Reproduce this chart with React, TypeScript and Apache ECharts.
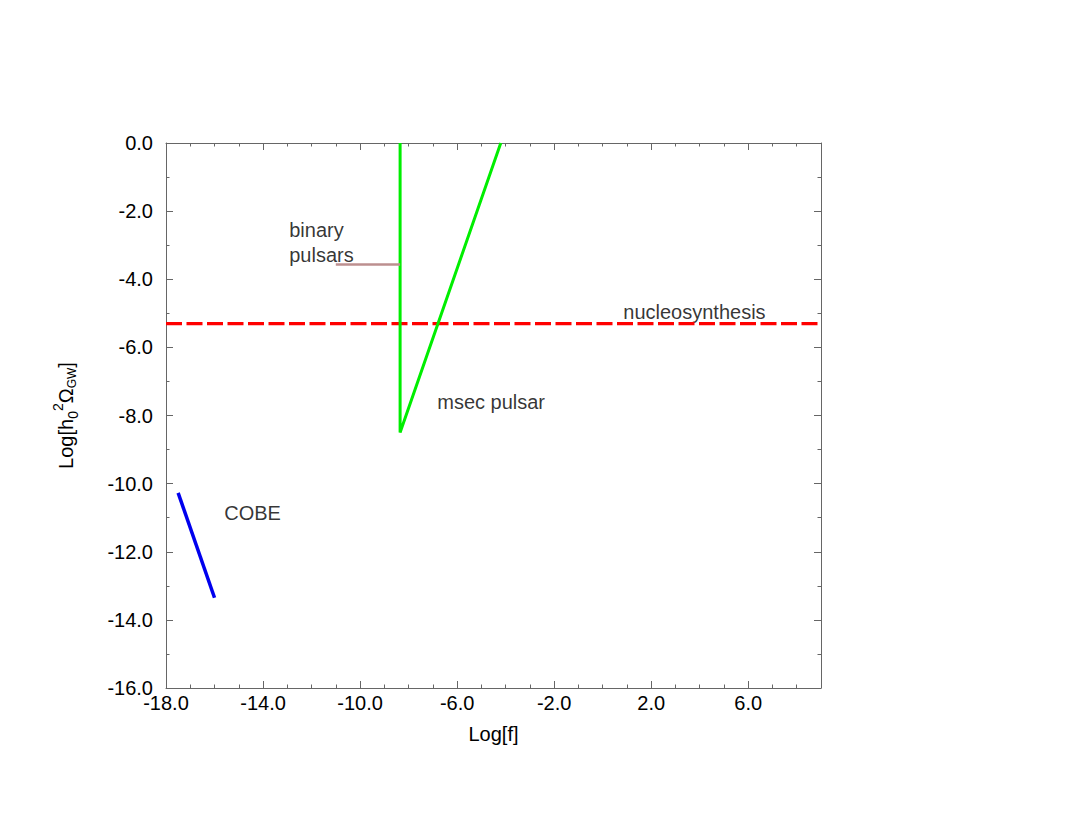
import React, { useEffect, useRef } from "react";
import * as echarts from "echarts";

const xTickLabels = ["-18.0", "-14.0", "-10.0", "-6.0", "-2.0", "2.0", "6.0"];
const mseCPulsar: [number, number][] = [[-8.35, 0], [-8.35, -8.5], [-4.2, 0]];
const binaryPulsars: [number, number][] = [[-11.0, -3.57], [-8.35, -3.57]];
const nucleosynthesis: [number, number][] = [[-18, -5.3], [9, -5.3]];
const cobe: [number, number][] = [[-17.5, -10.27], [-16.0, -13.35]];
const annotations = [
  { text: "binary", x: -12.92, y: -2.55 },
  { text: "pulsars", x: -12.92, y: -3.3 },
  { text: "nucleosynthesis", x: 0.85, y: -4.95 },
  { text: "msec pulsar", x: -6.82, y: -7.6 },
  { text: "COBE", x: -15.6, y: -10.85 },
];

const FONT = "'Liberation Sans', Arial, Helvetica, sans-serif";
const AX = "#666666";
const FS = 20;

export default function App() {
  const ref = useRef<HTMLDivElement>(null);
  useEffect(() => {
    if (!ref.current) return;
    const chart = echarts.init(ref.current, null, { renderer: "svg" });
    const baseX = {
      type: "value" as const,
      min: -18,
      max: 9,
      splitLine: { show: false },
    };
    const baseY = {
      type: "value" as const,
      min: -16,
      max: 0,
      interval: 2,
      splitLine: { show: false },
    };
    chart.setOption({
      animation: false,
      backgroundColor: "#ffffff",
      textStyle: { fontFamily: FONT },
      grid: { left: 166, right: 254, top: 143, bottom: 142 },
      xAxis: [
        {
          ...baseX,
          position: "bottom",
          interval: 4,
          axisLine: { show: true, onZero: false, lineStyle: { color: AX, width: 1 } },
          axisTick: { show: true, inside: true, length: 7, lineStyle: { color: AX } },
          axisLabel: {
            show: true,
            margin: 5,
            fontSize: FS,
            color: "#000",
            fontFamily: FONT,
            showMaxLabel: false,
            formatter: (v: number) => {
              const s = v.toFixed(1);
              return xTickLabels.includes(s) ? s : "";
            },
          },
          name: "Log[f]",
          nameLocation: "middle",
          nameGap: 36,
          nameTextStyle: { fontSize: FS, color: "#000", fontFamily: FONT },
        },
        {
          ...baseX,
          position: "bottom",
          interval: 1,
          axisLine: { show: false, onZero: false },
          axisTick: { show: true, inside: true, length: 3.5, lineStyle: { color: AX } },
          axisLabel: { show: false },
        },
        {
          ...baseX,
          position: "top",
          interval: 4,
          axisLine: { show: true, onZero: false, lineStyle: { color: AX, width: 1 } },
          axisTick: { show: true, inside: true, length: 7, lineStyle: { color: AX } },
          axisLabel: { show: false },
        },
        {
          ...baseX,
          position: "top",
          interval: 1,
          axisLine: { show: false, onZero: false },
          axisTick: { show: true, inside: true, length: 3.5, lineStyle: { color: AX } },
          axisLabel: { show: false },
        },
      ],
      yAxis: [
        {
          ...baseY,
          position: "left",
          axisLine: { show: true, onZero: false, lineStyle: { color: AX, width: 1 } },
          axisTick: { show: true, inside: true, length: 7, lineStyle: { color: AX } },
          minorTick: { show: true, splitNumber: 2, length: 3.5, lineStyle: { color: AX } },
          axisLabel: {
            show: true,
            margin: 13,
            fontSize: FS,
            color: "#000",
            fontFamily: FONT,
            formatter: (v: number) => v.toFixed(1),
          },
          name: "{n|Log[h}{sub|0}{sup|2}{n|Ω}{sub2|GW}{n|]}",
          nameLocation: "middle",
          nameGap: 86,
          nameRotate: 90,
          nameTextStyle: {
            fontSize: FS,
            color: "#000",
            fontFamily: FONT,
            rich: {
              n: { fontSize: FS, color: "#000", fontFamily: FONT },
              sub: { fontSize: 14, color: "#000", fontFamily: FONT, padding: [15, 0, 0, 0] },
              sup: { fontSize: 14, color: "#000", fontFamily: FONT, padding: [0, 0, 15, 0] },
              sub2: { fontSize: 12, color: "#000", fontFamily: FONT, padding: [13, 0, 0, 0] },
            },
          },
        },
        {
          ...baseY,
          position: "right",
          axisLine: { show: true, onZero: false, lineStyle: { color: AX, width: 1 } },
          axisTick: { show: true, inside: true, length: 7, lineStyle: { color: AX } },
          minorTick: { show: true, splitNumber: 2, length: 3.5, lineStyle: { color: AX } },
          axisLabel: { show: false },
        },
      ],
      series: [
        {
          type: "line",
          data: nucleosynthesis,
          xAxisIndex: 0,
          yAxisIndex: 0,
          symbol: "none",
          lineStyle: { color: "#ff0000", width: 3.3, type: [16, 4.5] },
        },
        {
          type: "line",
          data: mseCPulsar,
          xAxisIndex: 0,
          yAxisIndex: 0,
          symbol: "none",
          lineStyle: { color: "#00ee00", width: 3 },
        },
        {
          type: "line",
          data: binaryPulsars,
          xAxisIndex: 0,
          yAxisIndex: 0,
          symbol: "none",
          lineStyle: { color: "#bc8f8f", width: 2.5 },
        },
        {
          type: "line",
          data: cobe,
          xAxisIndex: 0,
          yAxisIndex: 0,
          symbol: "none",
          lineStyle: { color: "#0000ee", width: 3.5 },
        },
        {
          type: "scatter",
          xAxisIndex: 0,
          yAxisIndex: 0,
          symbolSize: 0,
          silent: true,
          data: annotations.map((a) => ({ value: [a.x, a.y], name: a.text })),
          label: {
            show: true,
            position: "right",
            distance: 0,
            formatter: (p: any) => p.name,
            fontSize: FS,
            color: "#000",
            fontFamily: FONT,
          },
        },
      ],
    });
    return () => chart.dispose();
  }, []);
  return (
    <div
      ref={ref}
      style={{ position: "fixed", left: 0, top: 0, width: 1075, height: 830 }}
    />
  );
}
